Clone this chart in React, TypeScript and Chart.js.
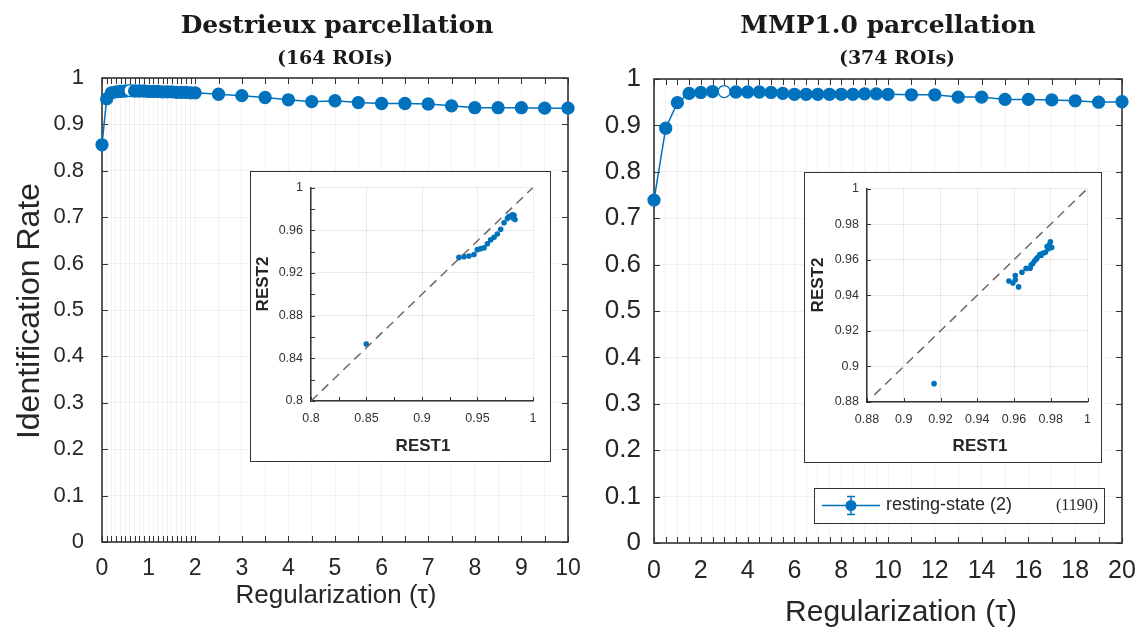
import React, { useEffect, useRef } from "react";
import { Chart, registerables } from "chart.js";
Chart.register(...registerables);

const BLUE = "#0072BD";
const SANS = "'Liberation Sans', Arial, sans-serif";
const SERIF = "'DejaVu Serif', serif";
const TXT = "#262626";

// ---------- Destrieux (164 ROIs) ----------
const destrieuxTau = [0, 0.1, 0.2, 0.3, 0.4, 0.5, 0.6, 0.7, 0.8, 0.9, 1.0, 1.1, 1.2, 1.3, 1.4, 1.5, 1.6, 1.7, 1.8, 1.9, 2.0,
  2.5, 3, 3.5, 4, 4.5, 5, 5.5, 6, 6.5, 7, 7.5, 8, 8.5, 9, 9.5, 10];
const destrieuxRate = [0.856, 0.955, 0.968, 0.970, 0.971, 0.972, 0.973, 0.972, 0.972, 0.972, 0.971, 0.971, 0.971, 0.970, 0.970, 0.970, 0.969, 0.969, 0.969, 0.968, 0.968,
  0.965, 0.962, 0.958, 0.953, 0.949, 0.951, 0.947, 0.945, 0.945, 0.944, 0.940, 0.936, 0.936, 0.936, 0.935, 0.935];
const destrieuxBest = 6;
const destrieuxXLabels = [0, 1, 2, 3, 4, 5, 6, 7, 8, 9, 10];

// ---------- MMP1.0 (374 ROIs) ----------
const mmpTau = [0, 0.5, 1, 1.5, 2, 2.5, 3, 3.5, 4, 4.5, 5, 5.5, 6, 6.5, 7, 7.5, 8, 8.5, 9, 9.5, 10,
  11, 12, 13, 14, 15, 16, 17, 18, 19, 20];
const mmpRate = [0.739, 0.894, 0.949, 0.969, 0.971, 0.973, 0.973, 0.972, 0.972, 0.972, 0.971, 0.969, 0.967, 0.967, 0.967, 0.967, 0.967, 0.967, 0.968, 0.968, 0.967,
  0.966, 0.966, 0.961, 0.961, 0.956, 0.956, 0.955, 0.953, 0.950, 0.951];
const mmpBest = 6;
const mmpXLabels = [0, 2, 4, 6, 8, 10, 12, 14, 16, 18, 20];

const rateTicks = [0, 0.1, 0.2, 0.3, 0.4, 0.5, 0.6, 0.7, 0.8, 0.9, 1];

// ---------- insets: REST1 vs REST2 ----------
const destRest1 = [0.8498, 0.9333, 0.9378, 0.9423, 0.9468, 0.9498, 0.9529, 0.9559, 0.9589, 0.9619, 0.9649, 0.9679, 0.9709, 0.9739, 0.9769, 0.9778, 0.9790, 0.9814, 0.9820, 0.9829, 0.9838];
const destRest2 = [0.8534, 0.9345, 0.9352, 0.9358, 0.9373, 0.9418, 0.9427, 0.9436, 0.9473, 0.9509, 0.9533, 0.9564, 0.9609, 0.9670, 0.9709, 0.9721, 0.9730, 0.9745, 0.9715, 0.9739, 0.9700];
const destInsetXLabels = [0.8, 0.85, 0.9, 0.95, 1];
const destInsetYLabels = [0.8, 0.84, 0.88, 0.92, 0.96, 1];
const destInsetXMarks = [0.8, 0.825, 0.85, 0.875, 0.9, 0.925, 0.95, 0.975, 1];
const destInsetYMarks = [0.8, 0.82, 0.84, 0.86, 0.88, 0.9, 0.92, 0.94, 0.96, 0.98, 1];

const mmpRest1 = [0.9165, 0.9572, 0.9594, 0.9607, 0.9607, 0.9625, 0.9643, 0.9666, 0.9688, 0.9693, 0.9702, 0.9711, 0.9720, 0.9726, 0.9740, 0.9747, 0.9756, 0.9771, 0.9780, 0.9787, 0.9793, 0.9798, 0.9805];
const mmpRest2 = [0.8903, 0.9480, 0.9469, 0.9511, 0.9487, 0.9447, 0.9529, 0.9551, 0.9552, 0.9570, 0.9578, 0.9592, 0.9601, 0.9611, 0.9629, 0.9623, 0.9636, 0.9641, 0.9674, 0.9661, 0.9683, 0.9701, 0.9668];
const mmpInsetLabels = [0.88, 0.9, 0.92, 0.94, 0.96, 0.98, 1];

const legendLabel = "resting-state (2)";
const legendCount = "(1190)";

const near = (arr: number[], v: number) => arr.some((a) => Math.abs(a - v) < 1e-6);

const decorPlugin = {
  id: "decor",
  beforeDatasetsDraw(chart: any, _a: any, o: any) {
    const ctx = chart.ctx;
    const a = chart.chartArea;
    const xs = chart.scales.x;
    const ys = chart.scales.y;
    ctx.save();
    ctx.strokeStyle = o.tickColor || "#333";
    ctx.lineWidth = 1;
    ctx.beginPath();
    (o.xMarks || []).forEach((v: number) => {
      const p = Math.round(xs.getPixelForValue(v)) + 0.5;
      ctx.moveTo(p, a.bottom);
      ctx.lineTo(p, a.bottom - o.len);
      if (o.mirror) {
        ctx.moveTo(p, a.top);
        ctx.lineTo(p, a.top + o.len);
      }
    });
    (o.yMarks || []).forEach((v: number) => {
      const p = Math.round(ys.getPixelForValue(v)) + 0.5;
      ctx.moveTo(a.left, p);
      ctx.lineTo(a.left + o.len, p);
      if (o.mirror) {
        ctx.moveTo(a.right, p);
        ctx.lineTo(a.right - o.len, p);
      }
    });
    ctx.stroke();
    if (o.frame) {
      ctx.lineWidth = o.frameWidth || 1.5;
      ctx.strokeStyle = "#333";
      ctx.strokeRect(a.left, a.top, a.right - a.left, a.bottom - a.top);
    }
    ctx.restore();
  },
  afterDraw(chart: any, _a: any, o: any) {
    const ctx = chart.ctx;
    (o.texts || []).forEach((t: any) => {
      ctx.save();
      ctx.font = t.font;
      ctx.fillStyle = t.color || TXT;
      ctx.textAlign = t.align || "center";
      ctx.textBaseline = "middle";
      ctx.translate(t.x, t.y);
      if (t.rotate) ctx.rotate(t.rotate);
      ctx.fillText(t.text, 0, 0);
      ctx.restore();
    });
    if (o.legend) {
      const L = o.legend;
      ctx.save();
      ctx.fillStyle = "#fff";
      ctx.fillRect(L.x, L.y, L.w, L.h);
      ctx.strokeStyle = "#333";
      ctx.lineWidth = 1;
      ctx.strokeRect(L.x + 0.5, L.y + 0.5, L.w, L.h);
      const cy = L.y + L.h / 2;
      ctx.strokeStyle = BLUE;
      ctx.lineWidth = 1.5;
      ctx.beginPath();
      ctx.moveTo(L.x + 8, cy);
      ctx.lineTo(L.x + 66, cy);
      const mx = L.x + 37;
      ctx.moveTo(mx, cy - 9);
      ctx.lineTo(mx, cy + 9);
      ctx.moveTo(mx - 4, cy - 9);
      ctx.lineTo(mx + 4, cy - 9);
      ctx.moveTo(mx - 4, cy + 9);
      ctx.lineTo(mx + 4, cy + 9);
      ctx.stroke();
      ctx.fillStyle = BLUE;
      ctx.beginPath();
      ctx.arc(mx, cy, 5.5, 0, Math.PI * 2);
      ctx.fill();
      ctx.fillStyle = TXT;
      ctx.textBaseline = "middle";
      ctx.textAlign = "left";
      ctx.font = `18px ${SANS}`;
      ctx.fillText(L.label, L.x + 72, cy);
      ctx.textAlign = "right";
      ctx.font = `16px 'Liberation Serif', serif`;
      ctx.fillText(L.count, L.x + L.w - 6, cy);
      ctx.restore();
    }
  },
};

function mainConfig(p: any) {
  const data = p.tau.map((x: number, i: number) => ({ x, y: p.rate[i] }));
  return {
    type: "line",
    data: {
      datasets: [
        {
          data,
          borderColor: BLUE,
          borderWidth: 1.5,
          pointRadius: 6,
          pointBorderWidth: 1.3,
          pointBorderColor: BLUE,
          pointBackgroundColor: p.tau.map((_: number, i: number) => (i === p.best ? "#fff" : BLUE)),
          clip: false,
          tension: 0,
        },
      ],
    },
    options: {
      responsive: false,
      animation: false,
      devicePixelRatio: 1,
      layout: { padding: { top: p.padTop, right: p.padRight, left: 0, bottom: 0 } },
      plugins: {
        legend: { display: false },
        tooltip: { enabled: false },
        decor: {
          xMarks: p.tau,
          yMarks: rateTicks,
          len: 6,
          mirror: true,
          frame: true,
          frameWidth: 1.6,
          texts: p.texts,
          legend: p.legend,
        },
      },
      scales: {
        x: {
          type: "linear",
          min: 0,
          max: p.xMax,
          afterBuildTicks: (s: any) => {
            s.ticks = p.tau.map((v: number) => ({ value: v }));
          },
          afterFit: (s: any) => {
            s.height = p.xAxisHeight;
          },
          grid: { color: "rgba(0,0,0,0.05)", drawTicks: false },
          border: { display: false },
          ticks: {
            autoSkip: false,
            maxRotation: 0,
            padding: p.xPad,
            color: TXT,
            font: { family: SANS, size: p.xFont },
            callback: (v: any) => (near(p.xLabels, Number(v)) ? String(Math.round(Number(v))) : ""),
          },
        },
        y: {
          type: "linear",
          min: 0,
          max: 1,
          afterBuildTicks: (s: any) => {
            s.ticks = rateTicks.map((v) => ({ value: v }));
          },
          afterFit: (s: any) => {
            s.width = p.yAxisWidth;
          },
          grid: { color: "rgba(0,0,0,0.05)", drawTicks: false },
          border: { display: false },
          ticks: {
            padding: p.yPad,
            color: TXT,
            font: { family: SANS, size: p.yFont },
            callback: (v: any) => String(+Number(v).toFixed(2)),
          },
        },
      },
    },
  };
}

function insetConfig(p: any) {
  const pts = p.r1.map((x: number, i: number) => ({ x, y: p.r2[i] }));
  const fmt = (v: any) => String(+Number(v).toFixed(3));
  return {
    type: "scatter",
    data: {
      datasets: [
        {
          type: "line",
          data: [
            { x: p.diag[0], y: p.diag[0] },
            { x: p.diag[1], y: p.diag[1] },
          ],
          borderColor: "#6a6a6a",
          borderWidth: 1.5,
          borderDash: [9, 6],
          pointRadius: 0,
        },
        {
          data: pts,
          pointRadius: 2.8,
          pointBackgroundColor: BLUE,
          pointBorderColor: BLUE,
          pointBorderWidth: 0,
        },
      ],
    },
    options: {
      responsive: false,
      animation: false,
      devicePixelRatio: 1,
      layout: { padding: { top: p.padTop, right: p.padRight, left: 0, bottom: 0 } },
      plugins: {
        legend: { display: false },
        tooltip: { enabled: false },
        decor: {
          xMarks: p.xMarks,
          yMarks: p.yMarks,
          len: 4,
          mirror: false,
          frame: false,
          texts: p.texts,
        },
      },
      scales: {
        x: {
          type: "linear",
          min: p.min,
          max: 1,
          afterBuildTicks: (s: any) => {
            s.ticks = p.xLabels.map((v: number) => ({ value: v }));
          },
          afterFit: (s: any) => {
            s.height = p.xAxisHeight;
          },
          grid: { color: "rgba(0,0,0,0.08)", drawTicks: false },
          border: { display: true, color: "#333", width: 1.5 },
          ticks: {
            autoSkip: false,
            maxRotation: 0,
            padding: 10,
            color: "#333",
            font: { family: SANS, size: 12.5 },
            callback: fmt,
          },
        },
        y: {
          type: "linear",
          min: p.min,
          max: 1,
          afterBuildTicks: (s: any) => {
            s.ticks = p.yLabels.map((v: number) => ({ value: v }));
          },
          afterFit: (s: any) => {
            s.width = p.yAxisWidth;
          },
          grid: { color: "rgba(0,0,0,0.08)", drawTicks: false },
          border: { display: true, color: "#333", width: 1.5 },
          ticks: {
            autoSkip: false,
            padding: 8,
            color: "#333",
            font: { family: SANS, size: 12.5 },
            callback: fmt,
          },
        },
      },
    },
  };
}

function ChartCanvas(props: { left: number; top: number; width: number; height: number; config: any; box?: any }) {
  const ref = useRef<HTMLCanvasElement>(null);
  useEffect(() => {
    const c = new Chart(ref.current as HTMLCanvasElement, { ...props.config, plugins: [decorPlugin] });
    return () => c.destroy();
  }, []);
  return (
    <div style={{ position: "absolute", left: props.left, top: props.top, ...(props.box || {}) }}>
      <canvas ref={ref} width={props.width} height={props.height} style={{ display: "block", width: props.width, height: props.height }} />
    </div>
  );
}

export default function App() {
  const leftMain = mainConfig({
    tau: destrieuxTau,
    rate: destrieuxRate,
    best: destrieuxBest,
    xMax: 10,
    xLabels: destrieuxXLabels,
    padTop: 78,
    padRight: 32,
    yAxisWidth: 102,
    xAxisHeight: 92,
    xPad: 13,
    yPad: 18,
    xFont: 23,
    yFont: 22,
    texts: [
      { text: "Destrieux parcellation", x: 337, y: 26, font: `bold 25px ${SERIF}`, color: "#1a1a1a" },
      { text: "(164 ROIs)", x: 335, y: 59, font: `bold 19px ${SERIF}`, color: "#1a1a1a" },
      { text: "Regularization (τ)", x: 336, y: 596, font: `26px ${SANS}` },
      { text: "Identification Rate", x: 30, y: 311, font: `32px ${SANS}`, rotate: -Math.PI / 2 },
    ],
  });
  const rightMain = mainConfig({
    tau: mmpTau,
    rate: mmpRate,
    best: mmpBest,
    xMax: 20,
    xLabels: mmpXLabels,
    padTop: 79,
    padRight: 38,
    yAxisWidth: 64,
    xAxisHeight: 91,
    xPad: 13,
    yPad: 13,
    xFont: 25,
    yFont: 26,
    texts: [
      { text: "MMP1.0 parcellation", x: 298, y: 26, font: `bold 25px ${SERIF}`, color: "#1a1a1a" },
      { text: "(374 ROIs)", x: 307, y: 59, font: `bold 19px ${SERIF}`, color: "#1a1a1a" },
      { text: "Regularization (τ)", x: 311, y: 613, font: `30px ${SANS}` },
    ],
    legend: { x: 224, y: 488, w: 290, h: 35, label: legendLabel, count: legendCount },
  });
  const leftInset = insetConfig({
    r1: destRest1,
    r2: destRest2,
    min: 0.8,
    diag: [0.8, 1],
    xLabels: destInsetXLabels,
    yLabels: destInsetYLabels,
    xMarks: destInsetXMarks,
    yMarks: destInsetYMarks,
    padTop: 9,
    padRight: 17,
    yAxisWidth: 60,
    xAxisHeight: 60,
    texts: [
      { text: "REST1", x: 172, y: 274, font: `bold 17px ${SANS}` },
      { text: "REST2", x: 12, y: 112, font: `bold 17px ${SANS}`, rotate: -Math.PI / 2 },
    ],
  });
  const rightInset = insetConfig({
    r1: mmpRest1,
    r2: mmpRest2,
    min: 0.88,
    diag: [0.884, 1],
    xLabels: mmpInsetLabels,
    yLabels: mmpInsetLabels,
    xMarks: mmpInsetLabels,
    yMarks: mmpInsetLabels,
    padTop: 9,
    padRight: 12,
    yAxisWidth: 62,
    xAxisHeight: 60,
    texts: [
      { text: "REST1", x: 175, y: 273, font: `bold 17px ${SANS}` },
      { text: "REST2", x: 13, y: 112, font: `bold 17px ${SANS}`, rotate: -Math.PI / 2 },
    ],
  });
  return (
    <div style={{ position: "fixed", left: 0, top: 0, width: 1135, height: 634, background: "#fff", overflow: "hidden" }}>
      <ChartCanvas left={0} top={0} width={600} height={634} config={leftMain} />
      <ChartCanvas left={590} top={0} width={570} height={634} config={rightMain} />
      <ChartCanvas
        left={250}
        top={171}
        width={299}
        height={289}
        config={leftInset}
        box={{ border: "1.5px solid #333", background: "#fff" }}
      />
      <ChartCanvas
        left={804}
        top={172}
        width={296}
        height={289}
        config={rightInset}
        box={{ border: "1.5px solid #333", background: "#fff" }}
      />
    </div>
  );
}
